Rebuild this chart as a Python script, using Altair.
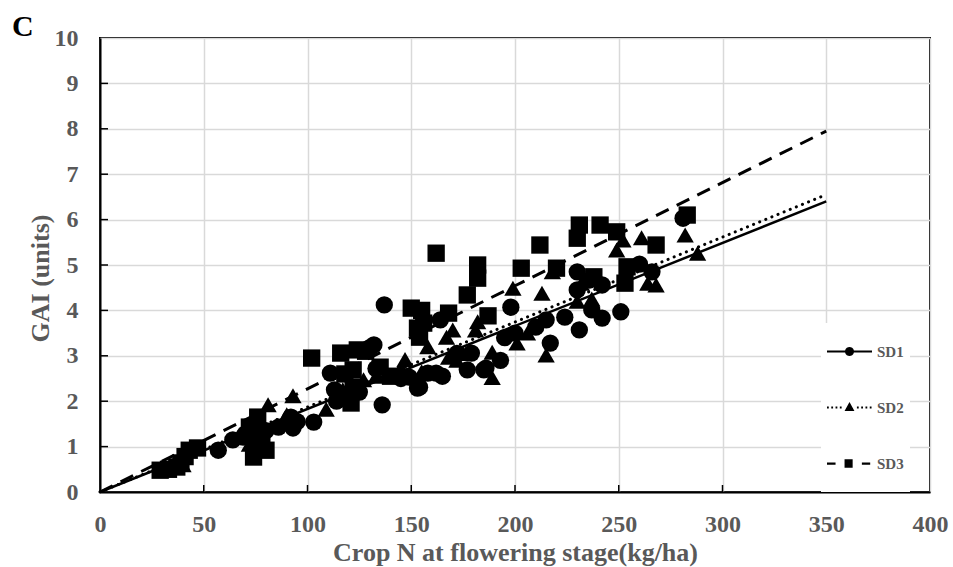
import math
import altair as alt
import pandas as pd

# ---------------- data ----------------
sd1_x = [57, 64, 69, 70, 74, 75, 80, 86, 92, 93, 95, 103,
         111, 113, 114, 117, 125, 130, 132, 133, 136, 137,
         145, 149, 153, 154, 158, 162, 164, 165,
         172, 177, 179, 185, 186, 193, 195, 198, 200,
         210, 215, 217, 224, 230, 230, 231, 236, 237, 242, 242, 251, 260, 266, 281]
sd1_y = [0.92, 1.15, 1.21, 1.28, 1.37, 1.10, 1.35, 1.43, 1.65, 1.41, 1.55, 1.54,
         2.62, 2.25, 2.00, 2.15, 2.20, 3.18, 3.24, 2.72, 1.92, 4.12,
         2.50, 2.53, 2.29, 2.31, 2.62, 2.62, 3.79, 2.55,
         3.05, 2.69, 3.06, 2.69, 2.73, 2.90, 3.40, 4.07, 3.50,
         3.63, 3.79, 3.28, 3.85, 4.85, 4.45, 3.57, 4.67, 4.01, 4.56, 3.83, 3.97, 5.02, 4.85, 6.03]

sd2_x = [40, 72, 78, 81, 90, 93, 109, 117, 127, 133, 145, 147, 155, 158,
         167, 168, 170, 172, 175, 181, 182, 189, 189, 199, 201, 206, 213, 215, 218,
         230, 232, 237, 249, 252, 261, 264, 268, 282, 288]
sd2_y = [0.60, 1.05, 1.50, 1.92, 1.70, 2.12, 1.82, 2.25, 2.47, 2.55, 2.73, 2.92, 2.65, 3.20,
         3.41, 2.97, 3.57, 2.90, 3.05, 3.57, 3.75, 2.52, 3.08, 4.49, 3.28, 3.50, 4.38, 3.02, 4.85,
         4.20, 4.60, 4.25, 5.33, 5.55, 5.60, 4.60, 4.56, 5.66, 5.26]

sd3_x = [29, 33, 37, 39, 41, 43, 47, 72, 74, 75, 76, 78, 80,
         102, 116, 118, 121, 122, 122, 124, 128, 135, 140,
         150, 153, 154, 155, 156, 162, 168, 177, 182, 182, 187,
         203, 212, 220, 230, 231, 238, 241, 249, 253, 254, 268, 283]
sd3_y = [0.48, 0.50, 0.55, 0.64, 0.78, 0.92, 0.97, 1.43, 0.77, 1.05, 1.65, 1.20, 0.92,
         2.95, 3.06, 2.60, 1.96, 2.31, 2.69, 3.13, 3.10, 2.75, 2.55,
         4.05, 3.61, 3.41, 4.00, 3.72, 5.26, 3.94, 4.34, 5.00, 4.71, 3.88,
         4.93, 5.44, 4.93, 5.59, 5.88, 4.74, 5.88, 5.73, 4.60, 4.96, 5.44, 6.10]

series = ["SD1", "SD2", "SD3"]
trend_x = [0, 350]
trend_end = {"SD1": 6.40, "SD2": 6.55, "SD3": 7.95}

x_ticks = [0, 50, 100, 150, 200, 250, 300, 350, 400]
y_ticks = [0, 1, 2, 3, 4, 5, 6, 7, 8, 9, 10]
inner_x_ticks = [50, 100, 150, 200, 250, 300, 350]
inner_y_ticks = [1, 2, 3, 4, 5, 6, 7, 8, 9]

# ---------------- tables ----------------
pts = pd.concat([
    pd.DataFrame({"x": sd1_x, "y": sd1_y, "series": "SD1"}),
    pd.DataFrame({"x": sd2_x, "y": sd2_y, "series": "SD2"}),
    pd.DataFrame({"x": sd3_x, "y": sd3_y, "series": "SD3"}),
], ignore_index=True)

lines = pd.DataFrame([
    {"x": trend_x[0], "y": 0.0, "series": s} for s in series
] + [
    {"x": trend_x[1], "y": trend_end[s], "series": s} for s in series
])

xt = pd.DataFrame({"x": inner_x_ticks})
yt = pd.DataFrame({"y": inner_y_ticks})

# ---------------- legend symbols (line sample + marker, as filled paths) ----------------
def rect(x0, x1, h):
    return f"M{x0:.3f},{-h:.3f} L{x1:.3f},{-h:.3f} L{x1:.3f},{h:.3f} L{x0:.3f},{h:.3f} Z "

def circle_path(r, n=20):
    p = []
    for i in range(n):
        a = 2 * math.pi * i / n
        p.append(f"{r*math.cos(a):.3f},{r*math.sin(a):.3f}")
    return "M" + " L".join(p) + " Z "

extent = "M0,-1 L0,-1 Z M0,1 L0,1 Z "   # equal vertical extent for every row
sym_sd1 = extent + rect(-1, 1, 0.045) + circle_path(0.2)
sym_sd2 = extent + "".join(
    rect(-1 + 0.19 * i, -1 + 0.19 * i + 0.08, 0.045)
    for i in range(11) if abs(-1 + 0.19 * i + 0.04) > 0.3
) + "M0,-0.24 L0.22,0.16 L-0.22,0.16 Z "
sym_sd3 = extent + rect(-1, -0.62, 0.05) + rect(0.55, 0.92, 0.05) + rect(-0.22, 0.14, 0.19)

FONT = "Liberation Serif"
GRAY = "#595959"

x_enc = alt.X(
    "x:Q",
    scale=alt.Scale(domain=[0, 400], nice=False, zero=True),
    axis=alt.Axis(values=x_ticks, title="Crop N at flowering stage(kg/ha)",
                  labelPadding=20, titlePadding=3, labelFlush=False,
                  labelOverlap=False),
)
y_enc = alt.Y(
    "y:Q",
    scale=alt.Scale(domain=[0, 10], nice=False, zero=True),
    axis=alt.Axis(values=y_ticks, title="GAI (units)", labelPadding=22,
                  titlePadding=1, titleY=240, labelOverlap=False),
)

xtick_layer = alt.Chart(xt).mark_rule(color="black", strokeWidth=1.5).encode(
    x=x_enc, y=alt.value(454), y2=alt.value(447)
)
ytick_layer = alt.Chart(yt).mark_rule(color="black", strokeWidth=1.5).encode(
    y=y_enc, x=alt.value(0), x2=alt.value(8)
)

points = alt.Chart(pts).mark_point(filled=True, opacity=1, color="black", size=300).encode(
    x=x_enc,
    y=y_enc,
    shape=alt.Shape("series:N",
                    scale=alt.Scale(domain=series, range=["circle", "triangle-up", "square"]),
                    legend=None),
)

line1 = alt.Chart(lines).transform_filter(alt.datum.series == "SD1").mark_line(
    color="black", strokeWidth=2.5).encode(x=x_enc, y=y_enc)
line2 = alt.Chart(lines).transform_filter(alt.datum.series == "SD2").mark_line(
    color="black", strokeWidth=3, strokeDash=[0.1, 6.5], strokeCap="round").encode(x=x_enc, y=y_enc)
line3 = alt.Chart(lines).transform_filter(alt.datum.series == "SD3").mark_line(
    color="black", strokeWidth=3, strokeDash=[14, 9]).encode(x=x_enc, y=y_enc)

legend_layer = alt.Chart(lines).mark_point(
    filled=True, opacity=0, color="black"
).encode(
    x=x_enc,
    y=y_enc,
    shape=alt.Shape(
        "series:N",
        scale=alt.Scale(domain=series, range=[sym_sd1, sym_sd2, sym_sd3]),
        legend=alt.Legend(
            title=None,
            orient="none",
            legendX=721,
            legendY=285,
            fillColor="white",
            padding=6,
            symbolSize=2025,
            symbolFillColor="black",
            symbolStrokeWidth=0,
            symbolOpacity=1,
            rowPadding=11,
            labelFont=FONT,
            labelFontSize=15,
            labelFontWeight="bold",
            labelColor=GRAY,
            labelOffset=5,
        ),
    ),
)

chart = alt.layer(
    xtick_layer, ytick_layer, points, line1, line2, line3, legend_layer
).resolve_scale(shape="independent").properties(
    width=830,
    height=454,
    autosize="none",
    padding={"left": 100, "top": 38, "right": 23, "bottom": 75},
    title=alt.TitleParams(text="C", anchor="start", frame="group", dx=-88, dy=43,
                          offset=3, baseline="alphabetic", fontSize=30, font=FONT,
                          fontWeight="bold", color="black"),
).configure_view(
    stroke="black", strokeWidth=2
).configure_axis(
    labelFont=FONT, labelFontSize=24, labelFontWeight="bold", labelColor=GRAY,
    titleFont=FONT, titleFontSize=26, titleFontWeight="bold", titleColor=GRAY,
    domainColor="black", domainWidth=2,
    gridColor="#d9d9d9", gridWidth=1.5,
    ticks=False,
)

chart.save("out.html", embed_options={"renderer": "svg", "actions": False})
